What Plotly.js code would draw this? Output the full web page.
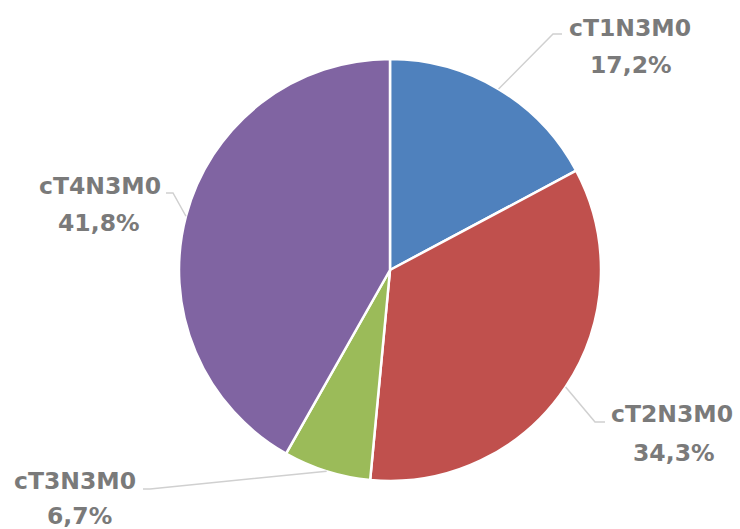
<!DOCTYPE html>
<html><head><meta charset="utf-8">
<script src="https://cdn.plot.ly/plotly-3.0.1.min.js"></script>
<style>html,body{margin:0;padding:0;background:#fff}#chart{width:740px;height:529px}</style>
</head><body><div id="chart"></div>
<script>
// Data
const categories = ['cT1N3M0', 'cT2N3M0', 'cT3N3M0', 'cT4N3M0'];
const shares = [17.2, 34.3, 6.7, 41.8];
const sliceColors = ['#4F81BD', '#C0504D', '#9BBB59', '#8064A2'];

// Layout config (pixels)
const W = 740, H = 529;
const CX = 390, CY = 270, R = 211;
// label centers (name line, percent line) and elbow points for leader lines
const labelLayout = [
  {name: [630, 28], pct: [631, 65], elbow: [553, 34], end: [562, 34]},
  {name: [672, 414], pct: [674, 453], elbow: [595, 422], end: [605, 422]},
  {name: [75, 481], pct: [79, 516], elbow: [150, 489], end: [143, 489]},
  {name: [100, 186], pct: [99, 223], elbow: [173, 193], end: [166, 193]}
];

const px = x => x / W;
const py = y => 1 - y / H;

const total = shares.reduce((a, b) => a + b, 0);
let cum = 0;
const shapes = [], annotations = [];
const font = {family: 'DejaVu Sans', size: 23.5, color: '#7A7A7A'};
shares.forEach((v, i) => {
  const mid = (cum + v / 2) / total * 2 * Math.PI;
  cum += v;
  const ax = CX + R * Math.sin(mid), ay = CY - R * Math.cos(mid);
  const L = labelLayout[i];
  shapes.push({
    type: 'path', xref: 'paper', yref: 'paper',
    path: `M ${px(ax)} ${py(ay)} L ${px(L.elbow[0])} ${py(L.elbow[1])} L ${px(L.end[0])} ${py(L.end[1])}`,
    line: {color: '#D0D0D0', width: 1.5}
  });
  annotations.push({
    xref: 'paper', yref: 'paper', x: px(L.name[0]), y: py(L.name[1]),
    xanchor: 'center', yanchor: 'middle', showarrow: false,
    text: '<b>' + categories[i] + '</b>', font: font
  });
  annotations.push({
    xref: 'paper', yref: 'paper', x: px(L.pct[0]), y: py(L.pct[1]),
    xanchor: 'center', yanchor: 'middle', showarrow: false,
    text: '<b>' + v.toFixed(1).replace('.', ',') + '%</b>', font: font
  });
});

const trace = {
  type: 'pie',
  labels: categories,
  values: shares,
  sort: false,
  direction: 'clockwise',
  rotation: 0,
  textinfo: 'none',
  hoverinfo: 'label+percent',
  marker: {colors: sliceColors, line: {color: '#FFFFFF', width: 2.5}},
  domain: {x: [px(CX - R), px(CX + R)], y: [py(CY + R), py(CY - R)]}
};

Plotly.newPlot('chart', [trace], {
  width: W, height: H,
  margin: {l: 0, r: 0, t: 0, b: 0},
  showlegend: false,
  paper_bgcolor: '#FFFFFF',
  shapes: shapes,
  annotations: annotations
}, {displayModeBar: false, staticPlot: true});
</script></body></html>
